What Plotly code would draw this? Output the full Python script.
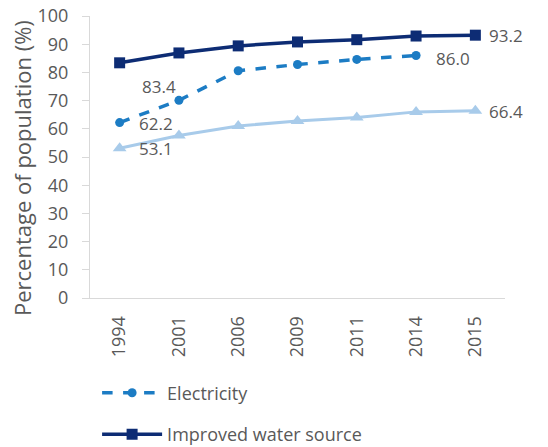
import plotly.graph_objects as go

years = ["1994", "2001", "2006", "2009", "2011", "2014", "2015"]
water = [83.4, 86.9, 89.4, 90.8, 91.6, 92.9, 93.2]
electricity = [62.2, 70.1, 80.6, 82.8, 84.6, 86.0, None]
sanitation = [53.1, 57.6, 61.0, 62.8, 64.0, 66.0, 66.4]
y_ticks = [0, 10, 20, 30, 40, 50, 60, 70, 80, 90, 100]

c_water = "#0d2c74"
c_elec = "#1c7cc4"
c_san = "#a8cbea"
txt = "#595959"
font = "Open Sans"
fs = 18

fig = go.Figure()
fig.add_trace(go.Scatter(x=years, y=sanitation, mode="lines+markers", name="Improved sanitation",
                         line=dict(color=c_san, width=3), marker=dict(symbol="triangle-up", size=12, color=c_san),
                         showlegend=False))
fig.add_trace(go.Scatter(x=years, y=electricity, mode="lines+markers", name="Electricity", legendgroup="e",
                         line=dict(color=c_elec, width=3.5, dash="dash"), marker=dict(symbol="circle", size=9, color=c_elec)))
fig.add_trace(go.Scatter(x=years, y=water, mode="lines+markers", name="Improved water source", legendgroup="w",
                         line=dict(color=c_water, width=3.5), marker=dict(symbol="square", size=11, color=c_water)))

labels = [
    (6, water[6], "93.2", 12, 0),
    (0, water[0], "83.4", 20, -24),
    (5, electricity[5], "86.0", 18, -3),
    (0, electricity[0], "62.2", 17, -1),
    (6, sanitation[6], "66.4", 12, -1),
    (0, sanitation[0], "53.1", 17, 0),
]
for x, y, t, xs, ys in labels:
    fig.add_annotation(x=x, y=y, xref="x", yref="y", text=t, showarrow=False, xanchor="left", yanchor="middle",
                       xshift=xs, yshift=ys, font=dict(family=font, size=17, color=txt))

fig.add_annotation(x=0, y=0.5, xref="paper", yref="paper", text="Percentage of population (%)", textangle=-90,
                   showarrow=False, xanchor="center", yanchor="middle", xshift=-68, yshift=-11,
                   font=dict(family=font, size=22, color=txt))

fig.update_layout(
    width=540, height=439,
    margin=dict(l=82, r=43, t=8, b=149, autoexpand=False),
    plot_bgcolor="white", paper_bgcolor="white",
    font=dict(family=font, size=fs, color=txt),
    legend=dict(x=0.165, y=0.165, xref="container", yref="container", xanchor="left", yanchor="top",
                traceorder="grouped", font=dict(family=font, size=fs, color=txt), tracegroupgap=15,
                itemwidth=60, bgcolor="rgba(0,0,0,0)"),
)
fig.update_xaxes(type="category", range=[-0.5, 6.5], tickangle=-90, showline=True, linecolor="#d9d9d9",
                 linewidth=1, ticks="", showgrid=False, automargin=False, ticklabelstandoff=10,
                 tickfont=dict(family=font, size=fs, color=txt))
fig.update_yaxes(range=[0, 100], tickvals=y_ticks, showline=True, linecolor="#d9d9d9", linewidth=1,
                 ticks="outside", ticklen=7, tickcolor="#d9d9d9", showgrid=False, zeroline=False,
                 ticklabelstandoff=10, automargin=False, ticklabeloverflow="allow",
                 tickfont=dict(family=font, size=fs, color=txt))

fig.write_html("out.html")
